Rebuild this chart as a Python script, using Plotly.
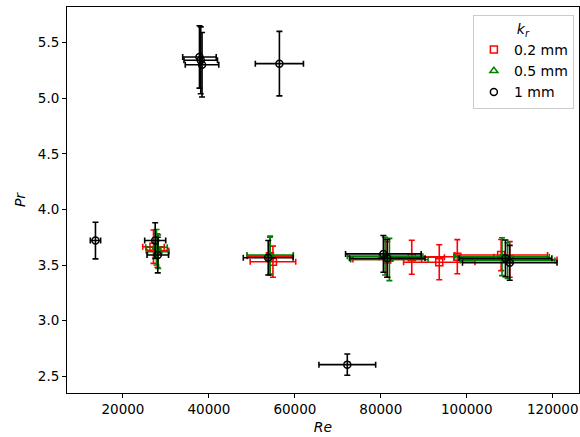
import plotly.graph_objects as go

# 0.2 mm (red)
re_02 = [27100, 28000, 54200, 54900, 81500, 87200, 93600, 97800, 108000, 110000]
pr_02 = [3.665, 3.63, 3.58, 3.53, 3.55, 3.57, 3.525, 3.575, 3.59, 3.55]
re_err_02 = [2500, 2600, 5300, 5300, 8000, 7600, 8300, 8500, 10800, 11000]
pr_err_02 = [0.15, 0.15, 0.17, 0.14, 0.16, 0.153, 0.157, 0.153, 0.14, 0.16]

# 0.5 mm (green)
re_05 = [27800, 28200, 54250, 81000, 82000, 108200, 109500]
pr_05 = [3.66, 3.62, 3.59, 3.58, 3.55, 3.575, 3.54]
re_err_05 = [2500, 2500, 5400, 8800, 9000, 11000, 11000]
pr_err_05 = [0.16, 0.15, 0.17, 0.17, 0.19, 0.17, 0.16]

# 1 mm (black)
re_1 = [13600, 27500, 28100, 37800, 38100, 38400, 56400, 53800, 72200, 80600, 81500, 109000, 110000]
pr_1 = [3.72, 3.72, 3.59, 5.37, 5.34, 5.30, 5.31, 3.565, 2.605, 3.60, 3.56, 3.56, 3.52]
re_err_1 = [1200, 2450, 2500, 3900, 3900, 3900, 5600, 5800, 6600, 8800, 8800, 10800, 11000]
pr_err_1 = [0.165, 0.16, 0.16, 0.28, 0.30, 0.29, 0.29, 0.155, 0.095, 0.165, 0.17, 0.165, 0.157]

series = [
    ("0.2 mm", re_02, pr_02, re_err_02, pr_err_02, "#ff0000", "square-open"),
    ("0.5 mm", re_05, pr_05, re_err_05, pr_err_05, "#008000", "triangle-up-open"),
    ("1 mm", re_1, pr_1, re_err_1, pr_err_1, "#000000", "circle-open"),
]

fig = go.Figure()
for name, x, y, ex, ey, col, sym in series:
    fig.add_trace(go.Scatter(
        x=x, y=y, mode="markers", name=name,
        marker=dict(symbol=sym, size=7, color=col, line=dict(width=1.5, color=col)),
        error_x=dict(type="data", array=ex, visible=True, color=col, thickness=1.6, width=3),
        error_y=dict(type="data", array=ey, visible=True, color=col, thickness=1.6, width=3),
    ))

axis_common = dict(
    showline=True, linecolor="black", linewidth=1, mirror=True,
    ticks="outside", ticklen=4, tickwidth=1, tickcolor="black",
    showgrid=False, zeroline=False, automargin=False,
    tickfont=dict(family="DejaVu Sans", size=13.5, color="black"),
)

fig.update_layout(
    width=580, height=437,
    margin=dict(l=67, r=1, t=7, b=44),
    plot_bgcolor="white", paper_bgcolor="white",
    font=dict(family="DejaVu Sans", size=14, color="black"),
    xaxis=dict(range=[6977, 126116], tickvals=[20000, 40000, 60000, 80000, 100000, 120000],
               ticktext=["20000", "40000", "60000", "80000", "100000", "120000"],
               title=dict(text="<i>Re</i>", font=dict(size=14), standoff=5), **axis_common),
    yaxis=dict(range=[2.35, 5.819], tickvals=[2.5, 3.0, 3.5, 4.0, 4.5, 5.0, 5.5],
               ticktext=["2.5", "3.0", "3.5", "4.0", "4.5", "5.0", "5.5"],
               title=dict(text="<i>Pr</i>", font=dict(size=14), standoff=8), **axis_common),
    legend=dict(
        x=0.99, y=0.98, xanchor="right", yanchor="top",
        bgcolor="white", bordercolor="#cccccc", borderwidth=1,
        font=dict(size=14),
        title=dict(text="<i>k<sub>r</sub></i>", side="top center", font=dict(size=14)),
        itemwidth=30,
    ),
)

fig.write_html("out.html", config={"displayModeBar": False},
               post_script="document.body.style.margin='0';document.body.style.overflow='hidden';")
